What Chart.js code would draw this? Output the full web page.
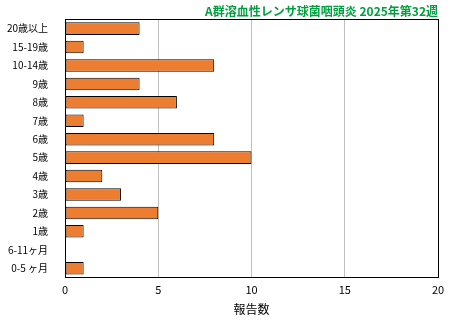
<!DOCTYPE html>
<html>
<head>
<meta charset="utf-8">
<script src="https://cdn.jsdelivr.net/npm/chart.js@4"></script>
<style>
  html, body { margin: 0; padding: 0; background: #fff; }
  #wrap { width: 461px; height: 321px; }
</style>
</head>
<body>
<div id="wrap"><canvas id="chart" width="461" height="321"></canvas></div>
<script>
// --- data ---
const ageGroups = ['20歳以上', '15-19歳', '10-14歳', '9歳', '8歳', '7歳', '6歳', '5歳', '4歳', '3歳', '2歳', '1歳', '6-11ヶ月', '0-5 ヶ月'];
const reports = [4, 1, 8, 4, 6, 1, 8, 10, 2, 3, 5, 1, 0, 1];
const xTicks = [0, 5, 10, 15, 20];
const titleText = 'A群溶血性レンサ球菌咽頭炎 2025年第32週';
const axisTitle = '報告数';

const FONT = '"Noto Sans CJK JP", "DejaVu Sans", sans-serif';

// frame round the plot area
const framePlugin = {
    id: 'frame',
    afterDraw(chart) {
        const a = chart.chartArea;
        const ctx = chart.ctx;
        ctx.save();
        ctx.strokeStyle = '#000';
        ctx.lineWidth = 1;
        ctx.strokeRect(Math.round(a.left) + 0.5, Math.round(a.top) + 0.5,
            Math.round(a.right - a.left), Math.round(a.bottom - a.top));
        ctx.restore();
    }
};

const ctx = document.getElementById('chart').getContext('2d');
new Chart(ctx, {
    type: 'bar',
    data: {
        labels: ageGroups,
        datasets: [{
            data: reports,
            backgroundColor: '#ED7D31',
            borderColor: '#000',
            borderWidth: 1,
            borderSkipped: false,
            categoryPercentage: 0.68,
            barPercentage: 1.0
        }]
    },
    options: {
        indexAxis: 'y',
        responsive: false,
        animation: false,
        layout: { padding: { left: 0, right: 23, top: 0, bottom: 4 } },
        plugins: {
            legend: { display: false },
            tooltip: { enabled: false },
            title: {
                display: true,
                text: titleText,
                align: 'end',
                color: '#00A040',
                font: { family: FONT, size: 12, weight: 'bold' },
                padding: { top: 4, bottom: 1 }
            }
        },
        scales: {
            x: {
                min: 0,
                max: 20,
                afterBuildTicks(axis) { axis.ticks = xTicks.map(v => ({ value: v })); },
                grid: { color: '#c0c0c0', drawTicks: false },
                border: { display: false },
                ticks: { color: '#000', font: { family: FONT, size: 11 }, padding: 6 },
                title: {
                    display: true,
                    text: axisTitle,
                    color: '#000',
                    font: { family: FONT, size: 12 },
                    padding: { top: 0, bottom: 0 }
                }
            },
            y: {
                grid: { display: false },
                border: { display: false },
                ticks: { color: '#000', font: { family: FONT, size: 10 }, padding: 9 },
                afterFit(axis) { axis.width = 65; }
            }
        }
    },
    plugins: [framePlugin]
});
</script>
</body>
</html>
